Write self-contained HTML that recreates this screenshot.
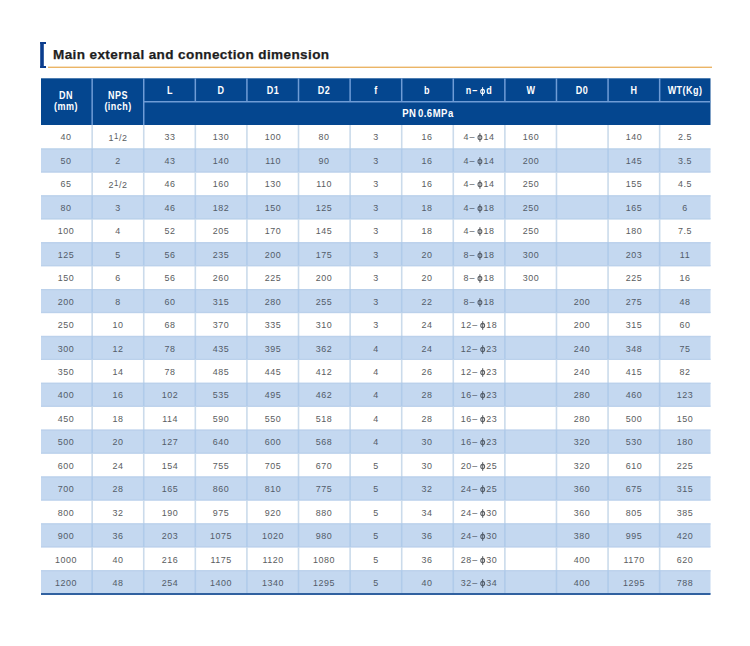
<!DOCTYPE html>
<html><head><meta charset="utf-8"><style>
*{margin:0;padding:0;box-sizing:border-box}
html,body{width:750px;height:646px;background:#fff;overflow:hidden}
body{position:relative;font-family:"Liberation Sans",sans-serif}
.a{position:absolute}
.t{position:absolute;text-align:center;white-space:nowrap}
.d{font-size:9.7px;color:#5a5d61;transform:scaleX(0.92);letter-spacing:0.55px}
.d.b{color:#535c69}
.h{font-size:10px;color:#fff;font-weight:bold;transform:scaleX(0.9);letter-spacing:0.5px}
.sup{font-size:8.5px;position:relative;top:-2px;margin:0 0.2px 0 0.2px}
.fr{position:relative;top:0.3px}
.dash{margin:0 0.6px}
svg.g{position:absolute;left:0;top:0}
</style></head><body>

<svg class="g" width="750" height="646" viewBox="0 0 750 646"><rect x="40.2" y="42" width="3.6" height="26" fill="#0b3d8e"/><rect x="40.2" y="42" width="5.8" height="2" fill="#0b3d8e"/><rect x="40.2" y="66" width="5.8" height="2" fill="#0b3d8e"/><rect x="48" y="66.6" width="664" height="1.4" fill="#ebb566"/><rect x="41.0" y="78.3" width="669.5" height="46.7" fill="#04468f"/><rect x="91.40" y="78.3" width="1.5" height="46.70" fill="#6f9cd6"/><rect x="142.99" y="78.3" width="1.5" height="46.70" fill="#6f9cd6"/><rect x="194.58" y="78.3" width="1.5" height="23.45" fill="#6f9cd6"/><rect x="246.17" y="78.3" width="1.5" height="23.45" fill="#6f9cd6"/><rect x="297.76" y="78.3" width="1.5" height="23.45" fill="#6f9cd6"/><rect x="349.36" y="78.3" width="1.5" height="23.45" fill="#6f9cd6"/><rect x="400.95" y="78.3" width="1.5" height="23.45" fill="#6f9cd6"/><rect x="452.54" y="78.3" width="1.5" height="23.45" fill="#6f9cd6"/><rect x="504.13" y="78.3" width="1.5" height="23.45" fill="#6f9cd6"/><rect x="555.72" y="78.3" width="1.5" height="23.45" fill="#6f9cd6"/><rect x="607.31" y="78.3" width="1.5" height="23.45" fill="#6f9cd6"/><rect x="658.90" y="78.3" width="1.5" height="23.45" fill="#6f9cd6"/><rect x="142.99" y="101.00" width="567.51" height="1.5" fill="#6f9cd6"/><rect x="91.35" y="125.00" width="1.6" height="23.45" fill="#cbdbeb"/><rect x="142.94" y="125.00" width="1.6" height="23.45" fill="#cbdbeb"/><rect x="194.53" y="125.00" width="1.6" height="23.45" fill="#cbdbeb"/><rect x="246.12" y="125.00" width="1.6" height="23.45" fill="#cbdbeb"/><rect x="297.71" y="125.00" width="1.6" height="23.45" fill="#cbdbeb"/><rect x="349.31" y="125.00" width="1.6" height="23.45" fill="#cbdbeb"/><rect x="400.90" y="125.00" width="1.6" height="23.45" fill="#cbdbeb"/><rect x="452.49" y="125.00" width="1.6" height="23.45" fill="#cbdbeb"/><rect x="504.08" y="125.00" width="1.6" height="23.45" fill="#cbdbeb"/><rect x="555.67" y="125.00" width="1.6" height="23.45" fill="#cbdbeb"/><rect x="607.26" y="125.00" width="1.6" height="23.45" fill="#cbdbeb"/><rect x="658.85" y="125.00" width="1.6" height="23.45" fill="#cbdbeb"/><rect x="41.0" y="148.43" width="669.5" height="24.10" fill="#c4d8f0"/><rect x="41.0" y="148.43" width="669.5" height="1.3" fill="#bbd1eb"/><rect x="41.0" y="171.23" width="669.5" height="1.3" fill="#bbd1eb"/><rect x="91.35" y="148.43" width="1.6" height="24.10" fill="#b0cbea"/><rect x="142.94" y="148.43" width="1.6" height="24.10" fill="#b0cbea"/><rect x="194.53" y="148.43" width="1.6" height="24.10" fill="#b0cbea"/><rect x="246.12" y="148.43" width="1.6" height="24.10" fill="#b0cbea"/><rect x="297.71" y="148.43" width="1.6" height="24.10" fill="#b0cbea"/><rect x="349.31" y="148.43" width="1.6" height="24.10" fill="#b0cbea"/><rect x="400.90" y="148.43" width="1.6" height="24.10" fill="#b0cbea"/><rect x="452.49" y="148.43" width="1.6" height="24.10" fill="#b0cbea"/><rect x="504.08" y="148.43" width="1.6" height="24.10" fill="#b0cbea"/><rect x="555.67" y="148.43" width="1.6" height="24.10" fill="#b0cbea"/><rect x="607.26" y="148.43" width="1.6" height="24.10" fill="#b0cbea"/><rect x="658.85" y="148.43" width="1.6" height="24.10" fill="#b0cbea"/><rect x="91.35" y="171.90" width="1.6" height="23.45" fill="#cbdbeb"/><rect x="142.94" y="171.90" width="1.6" height="23.45" fill="#cbdbeb"/><rect x="194.53" y="171.90" width="1.6" height="23.45" fill="#cbdbeb"/><rect x="246.12" y="171.90" width="1.6" height="23.45" fill="#cbdbeb"/><rect x="297.71" y="171.90" width="1.6" height="23.45" fill="#cbdbeb"/><rect x="349.31" y="171.90" width="1.6" height="23.45" fill="#cbdbeb"/><rect x="400.90" y="171.90" width="1.6" height="23.45" fill="#cbdbeb"/><rect x="452.49" y="171.90" width="1.6" height="23.45" fill="#cbdbeb"/><rect x="504.08" y="171.90" width="1.6" height="23.45" fill="#cbdbeb"/><rect x="555.67" y="171.90" width="1.6" height="23.45" fill="#cbdbeb"/><rect x="607.26" y="171.90" width="1.6" height="23.45" fill="#cbdbeb"/><rect x="658.85" y="171.90" width="1.6" height="23.45" fill="#cbdbeb"/><rect x="41.0" y="195.29" width="669.5" height="24.10" fill="#c4d8f0"/><rect x="41.0" y="195.29" width="669.5" height="1.3" fill="#bbd1eb"/><rect x="41.0" y="218.09" width="669.5" height="1.3" fill="#bbd1eb"/><rect x="91.35" y="195.29" width="1.6" height="24.10" fill="#b0cbea"/><rect x="142.94" y="195.29" width="1.6" height="24.10" fill="#b0cbea"/><rect x="194.53" y="195.29" width="1.6" height="24.10" fill="#b0cbea"/><rect x="246.12" y="195.29" width="1.6" height="24.10" fill="#b0cbea"/><rect x="297.71" y="195.29" width="1.6" height="24.10" fill="#b0cbea"/><rect x="349.31" y="195.29" width="1.6" height="24.10" fill="#b0cbea"/><rect x="400.90" y="195.29" width="1.6" height="24.10" fill="#b0cbea"/><rect x="452.49" y="195.29" width="1.6" height="24.10" fill="#b0cbea"/><rect x="504.08" y="195.29" width="1.6" height="24.10" fill="#b0cbea"/><rect x="555.67" y="195.29" width="1.6" height="24.10" fill="#b0cbea"/><rect x="607.26" y="195.29" width="1.6" height="24.10" fill="#b0cbea"/><rect x="658.85" y="195.29" width="1.6" height="24.10" fill="#b0cbea"/><rect x="91.35" y="218.80" width="1.6" height="23.45" fill="#cbdbeb"/><rect x="142.94" y="218.80" width="1.6" height="23.45" fill="#cbdbeb"/><rect x="194.53" y="218.80" width="1.6" height="23.45" fill="#cbdbeb"/><rect x="246.12" y="218.80" width="1.6" height="23.45" fill="#cbdbeb"/><rect x="297.71" y="218.80" width="1.6" height="23.45" fill="#cbdbeb"/><rect x="349.31" y="218.80" width="1.6" height="23.45" fill="#cbdbeb"/><rect x="400.90" y="218.80" width="1.6" height="23.45" fill="#cbdbeb"/><rect x="452.49" y="218.80" width="1.6" height="23.45" fill="#cbdbeb"/><rect x="504.08" y="218.80" width="1.6" height="23.45" fill="#cbdbeb"/><rect x="555.67" y="218.80" width="1.6" height="23.45" fill="#cbdbeb"/><rect x="607.26" y="218.80" width="1.6" height="23.45" fill="#cbdbeb"/><rect x="658.85" y="218.80" width="1.6" height="23.45" fill="#cbdbeb"/><rect x="41.0" y="242.15" width="669.5" height="24.10" fill="#c4d8f0"/><rect x="41.0" y="242.15" width="669.5" height="1.3" fill="#bbd1eb"/><rect x="41.0" y="264.95" width="669.5" height="1.3" fill="#bbd1eb"/><rect x="91.35" y="242.15" width="1.6" height="24.10" fill="#b0cbea"/><rect x="142.94" y="242.15" width="1.6" height="24.10" fill="#b0cbea"/><rect x="194.53" y="242.15" width="1.6" height="24.10" fill="#b0cbea"/><rect x="246.12" y="242.15" width="1.6" height="24.10" fill="#b0cbea"/><rect x="297.71" y="242.15" width="1.6" height="24.10" fill="#b0cbea"/><rect x="349.31" y="242.15" width="1.6" height="24.10" fill="#b0cbea"/><rect x="400.90" y="242.15" width="1.6" height="24.10" fill="#b0cbea"/><rect x="452.49" y="242.15" width="1.6" height="24.10" fill="#b0cbea"/><rect x="504.08" y="242.15" width="1.6" height="24.10" fill="#b0cbea"/><rect x="555.67" y="242.15" width="1.6" height="24.10" fill="#b0cbea"/><rect x="607.26" y="242.15" width="1.6" height="24.10" fill="#b0cbea"/><rect x="658.85" y="242.15" width="1.6" height="24.10" fill="#b0cbea"/><rect x="91.35" y="265.70" width="1.6" height="23.45" fill="#cbdbeb"/><rect x="142.94" y="265.70" width="1.6" height="23.45" fill="#cbdbeb"/><rect x="194.53" y="265.70" width="1.6" height="23.45" fill="#cbdbeb"/><rect x="246.12" y="265.70" width="1.6" height="23.45" fill="#cbdbeb"/><rect x="297.71" y="265.70" width="1.6" height="23.45" fill="#cbdbeb"/><rect x="349.31" y="265.70" width="1.6" height="23.45" fill="#cbdbeb"/><rect x="400.90" y="265.70" width="1.6" height="23.45" fill="#cbdbeb"/><rect x="452.49" y="265.70" width="1.6" height="23.45" fill="#cbdbeb"/><rect x="504.08" y="265.70" width="1.6" height="23.45" fill="#cbdbeb"/><rect x="555.67" y="265.70" width="1.6" height="23.45" fill="#cbdbeb"/><rect x="607.26" y="265.70" width="1.6" height="23.45" fill="#cbdbeb"/><rect x="658.85" y="265.70" width="1.6" height="23.45" fill="#cbdbeb"/><rect x="41.0" y="289.01" width="669.5" height="24.10" fill="#c4d8f0"/><rect x="41.0" y="289.01" width="669.5" height="1.3" fill="#bbd1eb"/><rect x="41.0" y="311.81" width="669.5" height="1.3" fill="#bbd1eb"/><rect x="91.35" y="289.01" width="1.6" height="24.10" fill="#b0cbea"/><rect x="142.94" y="289.01" width="1.6" height="24.10" fill="#b0cbea"/><rect x="194.53" y="289.01" width="1.6" height="24.10" fill="#b0cbea"/><rect x="246.12" y="289.01" width="1.6" height="24.10" fill="#b0cbea"/><rect x="297.71" y="289.01" width="1.6" height="24.10" fill="#b0cbea"/><rect x="349.31" y="289.01" width="1.6" height="24.10" fill="#b0cbea"/><rect x="400.90" y="289.01" width="1.6" height="24.10" fill="#b0cbea"/><rect x="452.49" y="289.01" width="1.6" height="24.10" fill="#b0cbea"/><rect x="504.08" y="289.01" width="1.6" height="24.10" fill="#b0cbea"/><rect x="555.67" y="289.01" width="1.6" height="24.10" fill="#b0cbea"/><rect x="607.26" y="289.01" width="1.6" height="24.10" fill="#b0cbea"/><rect x="658.85" y="289.01" width="1.6" height="24.10" fill="#b0cbea"/><rect x="91.35" y="312.60" width="1.6" height="23.45" fill="#cbdbeb"/><rect x="142.94" y="312.60" width="1.6" height="23.45" fill="#cbdbeb"/><rect x="194.53" y="312.60" width="1.6" height="23.45" fill="#cbdbeb"/><rect x="246.12" y="312.60" width="1.6" height="23.45" fill="#cbdbeb"/><rect x="297.71" y="312.60" width="1.6" height="23.45" fill="#cbdbeb"/><rect x="349.31" y="312.60" width="1.6" height="23.45" fill="#cbdbeb"/><rect x="400.90" y="312.60" width="1.6" height="23.45" fill="#cbdbeb"/><rect x="452.49" y="312.60" width="1.6" height="23.45" fill="#cbdbeb"/><rect x="504.08" y="312.60" width="1.6" height="23.45" fill="#cbdbeb"/><rect x="555.67" y="312.60" width="1.6" height="23.45" fill="#cbdbeb"/><rect x="607.26" y="312.60" width="1.6" height="23.45" fill="#cbdbeb"/><rect x="658.85" y="312.60" width="1.6" height="23.45" fill="#cbdbeb"/><rect x="41.0" y="335.87" width="669.5" height="24.10" fill="#c4d8f0"/><rect x="41.0" y="335.87" width="669.5" height="1.3" fill="#bbd1eb"/><rect x="41.0" y="358.67" width="669.5" height="1.3" fill="#bbd1eb"/><rect x="91.35" y="335.87" width="1.6" height="24.10" fill="#b0cbea"/><rect x="142.94" y="335.87" width="1.6" height="24.10" fill="#b0cbea"/><rect x="194.53" y="335.87" width="1.6" height="24.10" fill="#b0cbea"/><rect x="246.12" y="335.87" width="1.6" height="24.10" fill="#b0cbea"/><rect x="297.71" y="335.87" width="1.6" height="24.10" fill="#b0cbea"/><rect x="349.31" y="335.87" width="1.6" height="24.10" fill="#b0cbea"/><rect x="400.90" y="335.87" width="1.6" height="24.10" fill="#b0cbea"/><rect x="452.49" y="335.87" width="1.6" height="24.10" fill="#b0cbea"/><rect x="504.08" y="335.87" width="1.6" height="24.10" fill="#b0cbea"/><rect x="555.67" y="335.87" width="1.6" height="24.10" fill="#b0cbea"/><rect x="607.26" y="335.87" width="1.6" height="24.10" fill="#b0cbea"/><rect x="658.85" y="335.87" width="1.6" height="24.10" fill="#b0cbea"/><rect x="91.35" y="359.50" width="1.6" height="23.45" fill="#cbdbeb"/><rect x="142.94" y="359.50" width="1.6" height="23.45" fill="#cbdbeb"/><rect x="194.53" y="359.50" width="1.6" height="23.45" fill="#cbdbeb"/><rect x="246.12" y="359.50" width="1.6" height="23.45" fill="#cbdbeb"/><rect x="297.71" y="359.50" width="1.6" height="23.45" fill="#cbdbeb"/><rect x="349.31" y="359.50" width="1.6" height="23.45" fill="#cbdbeb"/><rect x="400.90" y="359.50" width="1.6" height="23.45" fill="#cbdbeb"/><rect x="452.49" y="359.50" width="1.6" height="23.45" fill="#cbdbeb"/><rect x="504.08" y="359.50" width="1.6" height="23.45" fill="#cbdbeb"/><rect x="555.67" y="359.50" width="1.6" height="23.45" fill="#cbdbeb"/><rect x="607.26" y="359.50" width="1.6" height="23.45" fill="#cbdbeb"/><rect x="658.85" y="359.50" width="1.6" height="23.45" fill="#cbdbeb"/><rect x="41.0" y="382.73" width="669.5" height="24.10" fill="#c4d8f0"/><rect x="41.0" y="382.73" width="669.5" height="1.3" fill="#bbd1eb"/><rect x="41.0" y="405.53" width="669.5" height="1.3" fill="#bbd1eb"/><rect x="91.35" y="382.73" width="1.6" height="24.10" fill="#b0cbea"/><rect x="142.94" y="382.73" width="1.6" height="24.10" fill="#b0cbea"/><rect x="194.53" y="382.73" width="1.6" height="24.10" fill="#b0cbea"/><rect x="246.12" y="382.73" width="1.6" height="24.10" fill="#b0cbea"/><rect x="297.71" y="382.73" width="1.6" height="24.10" fill="#b0cbea"/><rect x="349.31" y="382.73" width="1.6" height="24.10" fill="#b0cbea"/><rect x="400.90" y="382.73" width="1.6" height="24.10" fill="#b0cbea"/><rect x="452.49" y="382.73" width="1.6" height="24.10" fill="#b0cbea"/><rect x="504.08" y="382.73" width="1.6" height="24.10" fill="#b0cbea"/><rect x="555.67" y="382.73" width="1.6" height="24.10" fill="#b0cbea"/><rect x="607.26" y="382.73" width="1.6" height="24.10" fill="#b0cbea"/><rect x="658.85" y="382.73" width="1.6" height="24.10" fill="#b0cbea"/><rect x="91.35" y="406.40" width="1.6" height="23.45" fill="#cbdbeb"/><rect x="142.94" y="406.40" width="1.6" height="23.45" fill="#cbdbeb"/><rect x="194.53" y="406.40" width="1.6" height="23.45" fill="#cbdbeb"/><rect x="246.12" y="406.40" width="1.6" height="23.45" fill="#cbdbeb"/><rect x="297.71" y="406.40" width="1.6" height="23.45" fill="#cbdbeb"/><rect x="349.31" y="406.40" width="1.6" height="23.45" fill="#cbdbeb"/><rect x="400.90" y="406.40" width="1.6" height="23.45" fill="#cbdbeb"/><rect x="452.49" y="406.40" width="1.6" height="23.45" fill="#cbdbeb"/><rect x="504.08" y="406.40" width="1.6" height="23.45" fill="#cbdbeb"/><rect x="555.67" y="406.40" width="1.6" height="23.45" fill="#cbdbeb"/><rect x="607.26" y="406.40" width="1.6" height="23.45" fill="#cbdbeb"/><rect x="658.85" y="406.40" width="1.6" height="23.45" fill="#cbdbeb"/><rect x="41.0" y="429.59" width="669.5" height="24.10" fill="#c4d8f0"/><rect x="41.0" y="429.59" width="669.5" height="1.3" fill="#bbd1eb"/><rect x="41.0" y="452.39" width="669.5" height="1.3" fill="#bbd1eb"/><rect x="91.35" y="429.59" width="1.6" height="24.10" fill="#b0cbea"/><rect x="142.94" y="429.59" width="1.6" height="24.10" fill="#b0cbea"/><rect x="194.53" y="429.59" width="1.6" height="24.10" fill="#b0cbea"/><rect x="246.12" y="429.59" width="1.6" height="24.10" fill="#b0cbea"/><rect x="297.71" y="429.59" width="1.6" height="24.10" fill="#b0cbea"/><rect x="349.31" y="429.59" width="1.6" height="24.10" fill="#b0cbea"/><rect x="400.90" y="429.59" width="1.6" height="24.10" fill="#b0cbea"/><rect x="452.49" y="429.59" width="1.6" height="24.10" fill="#b0cbea"/><rect x="504.08" y="429.59" width="1.6" height="24.10" fill="#b0cbea"/><rect x="555.67" y="429.59" width="1.6" height="24.10" fill="#b0cbea"/><rect x="607.26" y="429.59" width="1.6" height="24.10" fill="#b0cbea"/><rect x="658.85" y="429.59" width="1.6" height="24.10" fill="#b0cbea"/><rect x="91.35" y="453.30" width="1.6" height="23.45" fill="#cbdbeb"/><rect x="142.94" y="453.30" width="1.6" height="23.45" fill="#cbdbeb"/><rect x="194.53" y="453.30" width="1.6" height="23.45" fill="#cbdbeb"/><rect x="246.12" y="453.30" width="1.6" height="23.45" fill="#cbdbeb"/><rect x="297.71" y="453.30" width="1.6" height="23.45" fill="#cbdbeb"/><rect x="349.31" y="453.30" width="1.6" height="23.45" fill="#cbdbeb"/><rect x="400.90" y="453.30" width="1.6" height="23.45" fill="#cbdbeb"/><rect x="452.49" y="453.30" width="1.6" height="23.45" fill="#cbdbeb"/><rect x="504.08" y="453.30" width="1.6" height="23.45" fill="#cbdbeb"/><rect x="555.67" y="453.30" width="1.6" height="23.45" fill="#cbdbeb"/><rect x="607.26" y="453.30" width="1.6" height="23.45" fill="#cbdbeb"/><rect x="658.85" y="453.30" width="1.6" height="23.45" fill="#cbdbeb"/><rect x="41.0" y="476.45" width="669.5" height="24.10" fill="#c4d8f0"/><rect x="41.0" y="476.45" width="669.5" height="1.3" fill="#bbd1eb"/><rect x="41.0" y="499.25" width="669.5" height="1.3" fill="#bbd1eb"/><rect x="91.35" y="476.45" width="1.6" height="24.10" fill="#b0cbea"/><rect x="142.94" y="476.45" width="1.6" height="24.10" fill="#b0cbea"/><rect x="194.53" y="476.45" width="1.6" height="24.10" fill="#b0cbea"/><rect x="246.12" y="476.45" width="1.6" height="24.10" fill="#b0cbea"/><rect x="297.71" y="476.45" width="1.6" height="24.10" fill="#b0cbea"/><rect x="349.31" y="476.45" width="1.6" height="24.10" fill="#b0cbea"/><rect x="400.90" y="476.45" width="1.6" height="24.10" fill="#b0cbea"/><rect x="452.49" y="476.45" width="1.6" height="24.10" fill="#b0cbea"/><rect x="504.08" y="476.45" width="1.6" height="24.10" fill="#b0cbea"/><rect x="555.67" y="476.45" width="1.6" height="24.10" fill="#b0cbea"/><rect x="607.26" y="476.45" width="1.6" height="24.10" fill="#b0cbea"/><rect x="658.85" y="476.45" width="1.6" height="24.10" fill="#b0cbea"/><rect x="91.35" y="500.20" width="1.6" height="23.45" fill="#cbdbeb"/><rect x="142.94" y="500.20" width="1.6" height="23.45" fill="#cbdbeb"/><rect x="194.53" y="500.20" width="1.6" height="23.45" fill="#cbdbeb"/><rect x="246.12" y="500.20" width="1.6" height="23.45" fill="#cbdbeb"/><rect x="297.71" y="500.20" width="1.6" height="23.45" fill="#cbdbeb"/><rect x="349.31" y="500.20" width="1.6" height="23.45" fill="#cbdbeb"/><rect x="400.90" y="500.20" width="1.6" height="23.45" fill="#cbdbeb"/><rect x="452.49" y="500.20" width="1.6" height="23.45" fill="#cbdbeb"/><rect x="504.08" y="500.20" width="1.6" height="23.45" fill="#cbdbeb"/><rect x="555.67" y="500.20" width="1.6" height="23.45" fill="#cbdbeb"/><rect x="607.26" y="500.20" width="1.6" height="23.45" fill="#cbdbeb"/><rect x="658.85" y="500.20" width="1.6" height="23.45" fill="#cbdbeb"/><rect x="41.0" y="523.31" width="669.5" height="24.10" fill="#c4d8f0"/><rect x="41.0" y="523.31" width="669.5" height="1.3" fill="#bbd1eb"/><rect x="41.0" y="546.11" width="669.5" height="1.3" fill="#bbd1eb"/><rect x="91.35" y="523.31" width="1.6" height="24.10" fill="#b0cbea"/><rect x="142.94" y="523.31" width="1.6" height="24.10" fill="#b0cbea"/><rect x="194.53" y="523.31" width="1.6" height="24.10" fill="#b0cbea"/><rect x="246.12" y="523.31" width="1.6" height="24.10" fill="#b0cbea"/><rect x="297.71" y="523.31" width="1.6" height="24.10" fill="#b0cbea"/><rect x="349.31" y="523.31" width="1.6" height="24.10" fill="#b0cbea"/><rect x="400.90" y="523.31" width="1.6" height="24.10" fill="#b0cbea"/><rect x="452.49" y="523.31" width="1.6" height="24.10" fill="#b0cbea"/><rect x="504.08" y="523.31" width="1.6" height="24.10" fill="#b0cbea"/><rect x="555.67" y="523.31" width="1.6" height="24.10" fill="#b0cbea"/><rect x="607.26" y="523.31" width="1.6" height="24.10" fill="#b0cbea"/><rect x="658.85" y="523.31" width="1.6" height="24.10" fill="#b0cbea"/><rect x="91.35" y="547.10" width="1.6" height="23.45" fill="#cbdbeb"/><rect x="142.94" y="547.10" width="1.6" height="23.45" fill="#cbdbeb"/><rect x="194.53" y="547.10" width="1.6" height="23.45" fill="#cbdbeb"/><rect x="246.12" y="547.10" width="1.6" height="23.45" fill="#cbdbeb"/><rect x="297.71" y="547.10" width="1.6" height="23.45" fill="#cbdbeb"/><rect x="349.31" y="547.10" width="1.6" height="23.45" fill="#cbdbeb"/><rect x="400.90" y="547.10" width="1.6" height="23.45" fill="#cbdbeb"/><rect x="452.49" y="547.10" width="1.6" height="23.45" fill="#cbdbeb"/><rect x="504.08" y="547.10" width="1.6" height="23.45" fill="#cbdbeb"/><rect x="555.67" y="547.10" width="1.6" height="23.45" fill="#cbdbeb"/><rect x="607.26" y="547.10" width="1.6" height="23.45" fill="#cbdbeb"/><rect x="658.85" y="547.10" width="1.6" height="23.45" fill="#cbdbeb"/><rect x="41.0" y="570.17" width="669.5" height="24.10" fill="#c4d8f0"/><rect x="41.0" y="570.17" width="669.5" height="1.3" fill="#bbd1eb"/><rect x="41.0" y="592.97" width="669.5" height="1.3" fill="#bbd1eb"/><rect x="91.35" y="570.17" width="1.6" height="24.10" fill="#b0cbea"/><rect x="142.94" y="570.17" width="1.6" height="24.10" fill="#b0cbea"/><rect x="194.53" y="570.17" width="1.6" height="24.10" fill="#b0cbea"/><rect x="246.12" y="570.17" width="1.6" height="24.10" fill="#b0cbea"/><rect x="297.71" y="570.17" width="1.6" height="24.10" fill="#b0cbea"/><rect x="349.31" y="570.17" width="1.6" height="24.10" fill="#b0cbea"/><rect x="400.90" y="570.17" width="1.6" height="24.10" fill="#b0cbea"/><rect x="452.49" y="570.17" width="1.6" height="24.10" fill="#b0cbea"/><rect x="504.08" y="570.17" width="1.6" height="24.10" fill="#b0cbea"/><rect x="555.67" y="570.17" width="1.6" height="24.10" fill="#b0cbea"/><rect x="607.26" y="570.17" width="1.6" height="24.10" fill="#b0cbea"/><rect x="658.85" y="570.17" width="1.6" height="24.10" fill="#b0cbea"/><rect x="41" y="593" width="669.5" height="2" fill="#3161a0"/></svg>
<div class="a" style="left:53px;top:45.8px;font-size:13px;line-height:18px;font-weight:bold;letter-spacing:0.38px;color:#1e1e1e;white-space:nowrap;transform:scaleX(1.04);transform-origin:0 0;-webkit-text-stroke:0.25px #1e1e1e">Main external and connection dimension</div>
<div class="t h" style="left:139.54px;top:78.89999999999999px;width:60px;height:23px;line-height:23px">L</div>
<div class="t h" style="left:191.13px;top:78.89999999999999px;width:60px;height:23px;line-height:23px">D</div>
<div class="t h" style="left:242.72px;top:78.89999999999999px;width:60px;height:23px;line-height:23px">D1</div>
<div class="t h" style="left:294.31px;top:78.89999999999999px;width:60px;height:23px;line-height:23px">D2</div>
<div class="t h" style="left:345.90px;top:78.89999999999999px;width:60px;height:23px;line-height:23px">f</div>
<div class="t h" style="left:397.49px;top:78.89999999999999px;width:60px;height:23px;line-height:23px">b</div>
<div class="t h" style="left:449.08px;top:78.89999999999999px;width:60px;height:23px;line-height:23px">n<span class="dash">–</span><svg width="6" height="9" viewBox="0 0 6 9" style="vertical-align:-2.3px;margin:0 1.2px 0 1.6px;overflow:visible"><ellipse cx="3" cy="4.5" rx="2.1" ry="2.1" fill="none" stroke="currentColor" stroke-width="1.1"/><rect x="2.45" y="0.2" width="1.1" height="8.6" fill="currentColor"/></svg>d</div>
<div class="t h" style="left:500.67px;top:78.89999999999999px;width:60px;height:23px;line-height:23px">W</div>
<div class="t h" style="left:552.27px;top:78.89999999999999px;width:60px;height:23px;line-height:23px">D0</div>
<div class="t h" style="left:603.86px;top:78.89999999999999px;width:60px;height:23px;line-height:23px">H</div>
<div class="t h" style="left:655.45px;top:78.89999999999999px;width:60px;height:23px;line-height:23px">WT(Kg)</div>
<div class="t h" style="left:36.36px;top:90px;width:60px;line-height:12px">DN</div>
<div class="t h" style="left:36.36px;top:100.8px;width:60px;line-height:12px">(mm)</div>
<div class="t h" style="left:87.95px;top:90px;width:60px;line-height:12px">NPS</div>
<div class="t h" style="left:87.95px;top:100.8px;width:60px;line-height:12px">(inch)</div>
<div class="t h" style="left:367.12px;top:102.25px;width:120px;height:23px;line-height:23px"><span style="display:inline-block;transform:scaleX(1.06);word-spacing:-1.6px;position:relative;left:1px">PN 0.6MPa</span></div>
<div class="t d" style="left:36.36px;top:126.83px;width:60px;height:20px;line-height:20px">40</div>
<div class="t d" style="left:87.95px;top:126.83px;width:60px;height:20px;line-height:20px"><span style="position:relative;top:0.8px">1<span class="sup">1</span><span class="fr">/2</span></span></div>
<div class="t d" style="left:139.54px;top:126.83px;width:60px;height:20px;line-height:20px">33</div>
<div class="t d" style="left:191.13px;top:126.83px;width:60px;height:20px;line-height:20px">130</div>
<div class="t d" style="left:242.72px;top:126.83px;width:60px;height:20px;line-height:20px">100</div>
<div class="t d" style="left:294.31px;top:126.83px;width:60px;height:20px;line-height:20px">80</div>
<div class="t d" style="left:345.90px;top:126.83px;width:60px;height:20px;line-height:20px">3</div>
<div class="t d" style="left:397.49px;top:126.83px;width:60px;height:20px;line-height:20px">16</div>
<div class="t d" style="left:449.08px;top:126.83px;width:60px;height:20px;line-height:20px">4<span class="dash">–</span><svg width="6" height="9" viewBox="0 0 6 9" style="vertical-align:-2.3px;margin:0 1.2px 0 1.6px;overflow:visible"><ellipse cx="3" cy="4.5" rx="2.1" ry="2.1" fill="none" stroke="currentColor" stroke-width="1.1"/><rect x="2.45" y="0.2" width="1.1" height="8.6" fill="currentColor"/></svg>14</div>
<div class="t d" style="left:500.67px;top:126.83px;width:60px;height:20px;line-height:20px">160</div>
<div class="t d" style="left:603.86px;top:126.83px;width:60px;height:20px;line-height:20px">140</div>
<div class="t d" style="left:655.45px;top:126.83px;width:60px;height:20px;line-height:20px">2.5</div>
<div class="t d b" style="left:36.36px;top:150.83px;width:60px;height:20px;line-height:20px">50</div>
<div class="t d b" style="left:87.95px;top:150.83px;width:60px;height:20px;line-height:20px">2</div>
<div class="t d b" style="left:139.54px;top:150.83px;width:60px;height:20px;line-height:20px">43</div>
<div class="t d b" style="left:191.13px;top:150.83px;width:60px;height:20px;line-height:20px">140</div>
<div class="t d b" style="left:242.72px;top:150.83px;width:60px;height:20px;line-height:20px">110</div>
<div class="t d b" style="left:294.31px;top:150.83px;width:60px;height:20px;line-height:20px">90</div>
<div class="t d b" style="left:345.90px;top:150.83px;width:60px;height:20px;line-height:20px">3</div>
<div class="t d b" style="left:397.49px;top:150.83px;width:60px;height:20px;line-height:20px">16</div>
<div class="t d b" style="left:449.08px;top:150.83px;width:60px;height:20px;line-height:20px">4<span class="dash">–</span><svg width="6" height="9" viewBox="0 0 6 9" style="vertical-align:-2.3px;margin:0 1.2px 0 1.6px;overflow:visible"><ellipse cx="3" cy="4.5" rx="2.1" ry="2.1" fill="none" stroke="currentColor" stroke-width="1.1"/><rect x="2.45" y="0.2" width="1.1" height="8.6" fill="currentColor"/></svg>14</div>
<div class="t d b" style="left:500.67px;top:150.83px;width:60px;height:20px;line-height:20px">200</div>
<div class="t d b" style="left:603.86px;top:150.83px;width:60px;height:20px;line-height:20px">145</div>
<div class="t d b" style="left:655.45px;top:150.83px;width:60px;height:20px;line-height:20px">3.5</div>
<div class="t d" style="left:36.36px;top:173.83px;width:60px;height:20px;line-height:20px">65</div>
<div class="t d" style="left:87.95px;top:173.83px;width:60px;height:20px;line-height:20px"><span style="position:relative;top:0.8px">2<span class="sup">1</span><span class="fr">/2</span></span></div>
<div class="t d" style="left:139.54px;top:173.83px;width:60px;height:20px;line-height:20px">46</div>
<div class="t d" style="left:191.13px;top:173.83px;width:60px;height:20px;line-height:20px">160</div>
<div class="t d" style="left:242.72px;top:173.83px;width:60px;height:20px;line-height:20px">130</div>
<div class="t d" style="left:294.31px;top:173.83px;width:60px;height:20px;line-height:20px">110</div>
<div class="t d" style="left:345.90px;top:173.83px;width:60px;height:20px;line-height:20px">3</div>
<div class="t d" style="left:397.49px;top:173.83px;width:60px;height:20px;line-height:20px">16</div>
<div class="t d" style="left:449.08px;top:173.83px;width:60px;height:20px;line-height:20px">4<span class="dash">–</span><svg width="6" height="9" viewBox="0 0 6 9" style="vertical-align:-2.3px;margin:0 1.2px 0 1.6px;overflow:visible"><ellipse cx="3" cy="4.5" rx="2.1" ry="2.1" fill="none" stroke="currentColor" stroke-width="1.1"/><rect x="2.45" y="0.2" width="1.1" height="8.6" fill="currentColor"/></svg>14</div>
<div class="t d" style="left:500.67px;top:173.83px;width:60px;height:20px;line-height:20px">250</div>
<div class="t d" style="left:603.86px;top:173.83px;width:60px;height:20px;line-height:20px">155</div>
<div class="t d" style="left:655.45px;top:173.83px;width:60px;height:20px;line-height:20px">4.5</div>
<div class="t d b" style="left:36.36px;top:197.83px;width:60px;height:20px;line-height:20px">80</div>
<div class="t d b" style="left:87.95px;top:197.83px;width:60px;height:20px;line-height:20px">3</div>
<div class="t d b" style="left:139.54px;top:197.83px;width:60px;height:20px;line-height:20px">46</div>
<div class="t d b" style="left:191.13px;top:197.83px;width:60px;height:20px;line-height:20px">182</div>
<div class="t d b" style="left:242.72px;top:197.83px;width:60px;height:20px;line-height:20px">150</div>
<div class="t d b" style="left:294.31px;top:197.83px;width:60px;height:20px;line-height:20px">125</div>
<div class="t d b" style="left:345.90px;top:197.83px;width:60px;height:20px;line-height:20px">3</div>
<div class="t d b" style="left:397.49px;top:197.83px;width:60px;height:20px;line-height:20px">18</div>
<div class="t d b" style="left:449.08px;top:197.83px;width:60px;height:20px;line-height:20px">4<span class="dash">–</span><svg width="6" height="9" viewBox="0 0 6 9" style="vertical-align:-2.3px;margin:0 1.2px 0 1.6px;overflow:visible"><ellipse cx="3" cy="4.5" rx="2.1" ry="2.1" fill="none" stroke="currentColor" stroke-width="1.1"/><rect x="2.45" y="0.2" width="1.1" height="8.6" fill="currentColor"/></svg>18</div>
<div class="t d b" style="left:500.67px;top:197.83px;width:60px;height:20px;line-height:20px">250</div>
<div class="t d b" style="left:603.86px;top:197.83px;width:60px;height:20px;line-height:20px">165</div>
<div class="t d b" style="left:655.45px;top:197.83px;width:60px;height:20px;line-height:20px">6</div>
<div class="t d" style="left:36.36px;top:220.83px;width:60px;height:20px;line-height:20px">100</div>
<div class="t d" style="left:87.95px;top:220.83px;width:60px;height:20px;line-height:20px">4</div>
<div class="t d" style="left:139.54px;top:220.83px;width:60px;height:20px;line-height:20px">52</div>
<div class="t d" style="left:191.13px;top:220.83px;width:60px;height:20px;line-height:20px">205</div>
<div class="t d" style="left:242.72px;top:220.83px;width:60px;height:20px;line-height:20px">170</div>
<div class="t d" style="left:294.31px;top:220.83px;width:60px;height:20px;line-height:20px">145</div>
<div class="t d" style="left:345.90px;top:220.83px;width:60px;height:20px;line-height:20px">3</div>
<div class="t d" style="left:397.49px;top:220.83px;width:60px;height:20px;line-height:20px">18</div>
<div class="t d" style="left:449.08px;top:220.83px;width:60px;height:20px;line-height:20px">4<span class="dash">–</span><svg width="6" height="9" viewBox="0 0 6 9" style="vertical-align:-2.3px;margin:0 1.2px 0 1.6px;overflow:visible"><ellipse cx="3" cy="4.5" rx="2.1" ry="2.1" fill="none" stroke="currentColor" stroke-width="1.1"/><rect x="2.45" y="0.2" width="1.1" height="8.6" fill="currentColor"/></svg>18</div>
<div class="t d" style="left:500.67px;top:220.83px;width:60px;height:20px;line-height:20px">250</div>
<div class="t d" style="left:603.86px;top:220.83px;width:60px;height:20px;line-height:20px">180</div>
<div class="t d" style="left:655.45px;top:220.83px;width:60px;height:20px;line-height:20px">7.5</div>
<div class="t d b" style="left:36.36px;top:244.83px;width:60px;height:20px;line-height:20px">125</div>
<div class="t d b" style="left:87.95px;top:244.83px;width:60px;height:20px;line-height:20px">5</div>
<div class="t d b" style="left:139.54px;top:244.83px;width:60px;height:20px;line-height:20px">56</div>
<div class="t d b" style="left:191.13px;top:244.83px;width:60px;height:20px;line-height:20px">235</div>
<div class="t d b" style="left:242.72px;top:244.83px;width:60px;height:20px;line-height:20px">200</div>
<div class="t d b" style="left:294.31px;top:244.83px;width:60px;height:20px;line-height:20px">175</div>
<div class="t d b" style="left:345.90px;top:244.83px;width:60px;height:20px;line-height:20px">3</div>
<div class="t d b" style="left:397.49px;top:244.83px;width:60px;height:20px;line-height:20px">20</div>
<div class="t d b" style="left:449.08px;top:244.83px;width:60px;height:20px;line-height:20px">8<span class="dash">–</span><svg width="6" height="9" viewBox="0 0 6 9" style="vertical-align:-2.3px;margin:0 1.2px 0 1.6px;overflow:visible"><ellipse cx="3" cy="4.5" rx="2.1" ry="2.1" fill="none" stroke="currentColor" stroke-width="1.1"/><rect x="2.45" y="0.2" width="1.1" height="8.6" fill="currentColor"/></svg>18</div>
<div class="t d b" style="left:500.67px;top:244.83px;width:60px;height:20px;line-height:20px">300</div>
<div class="t d b" style="left:603.86px;top:244.83px;width:60px;height:20px;line-height:20px">203</div>
<div class="t d b" style="left:655.45px;top:244.83px;width:60px;height:20px;line-height:20px">11</div>
<div class="t d" style="left:36.36px;top:267.83px;width:60px;height:20px;line-height:20px">150</div>
<div class="t d" style="left:87.95px;top:267.83px;width:60px;height:20px;line-height:20px">6</div>
<div class="t d" style="left:139.54px;top:267.83px;width:60px;height:20px;line-height:20px">56</div>
<div class="t d" style="left:191.13px;top:267.83px;width:60px;height:20px;line-height:20px">260</div>
<div class="t d" style="left:242.72px;top:267.83px;width:60px;height:20px;line-height:20px">225</div>
<div class="t d" style="left:294.31px;top:267.83px;width:60px;height:20px;line-height:20px">200</div>
<div class="t d" style="left:345.90px;top:267.83px;width:60px;height:20px;line-height:20px">3</div>
<div class="t d" style="left:397.49px;top:267.83px;width:60px;height:20px;line-height:20px">20</div>
<div class="t d" style="left:449.08px;top:267.83px;width:60px;height:20px;line-height:20px">8<span class="dash">–</span><svg width="6" height="9" viewBox="0 0 6 9" style="vertical-align:-2.3px;margin:0 1.2px 0 1.6px;overflow:visible"><ellipse cx="3" cy="4.5" rx="2.1" ry="2.1" fill="none" stroke="currentColor" stroke-width="1.1"/><rect x="2.45" y="0.2" width="1.1" height="8.6" fill="currentColor"/></svg>18</div>
<div class="t d" style="left:500.67px;top:267.83px;width:60px;height:20px;line-height:20px">300</div>
<div class="t d" style="left:603.86px;top:267.83px;width:60px;height:20px;line-height:20px">225</div>
<div class="t d" style="left:655.45px;top:267.83px;width:60px;height:20px;line-height:20px">16</div>
<div class="t d b" style="left:36.36px;top:291.83px;width:60px;height:20px;line-height:20px">200</div>
<div class="t d b" style="left:87.95px;top:291.83px;width:60px;height:20px;line-height:20px">8</div>
<div class="t d b" style="left:139.54px;top:291.83px;width:60px;height:20px;line-height:20px">60</div>
<div class="t d b" style="left:191.13px;top:291.83px;width:60px;height:20px;line-height:20px">315</div>
<div class="t d b" style="left:242.72px;top:291.83px;width:60px;height:20px;line-height:20px">280</div>
<div class="t d b" style="left:294.31px;top:291.83px;width:60px;height:20px;line-height:20px">255</div>
<div class="t d b" style="left:345.90px;top:291.83px;width:60px;height:20px;line-height:20px">3</div>
<div class="t d b" style="left:397.49px;top:291.83px;width:60px;height:20px;line-height:20px">22</div>
<div class="t d b" style="left:449.08px;top:291.83px;width:60px;height:20px;line-height:20px">8<span class="dash">–</span><svg width="6" height="9" viewBox="0 0 6 9" style="vertical-align:-2.3px;margin:0 1.2px 0 1.6px;overflow:visible"><ellipse cx="3" cy="4.5" rx="2.1" ry="2.1" fill="none" stroke="currentColor" stroke-width="1.1"/><rect x="2.45" y="0.2" width="1.1" height="8.6" fill="currentColor"/></svg>18</div>
<div class="t d b" style="left:552.27px;top:291.83px;width:60px;height:20px;line-height:20px">200</div>
<div class="t d b" style="left:603.86px;top:291.83px;width:60px;height:20px;line-height:20px">275</div>
<div class="t d b" style="left:655.45px;top:291.83px;width:60px;height:20px;line-height:20px">48</div>
<div class="t d" style="left:36.36px;top:314.83px;width:60px;height:20px;line-height:20px">250</div>
<div class="t d" style="left:87.95px;top:314.83px;width:60px;height:20px;line-height:20px">10</div>
<div class="t d" style="left:139.54px;top:314.83px;width:60px;height:20px;line-height:20px">68</div>
<div class="t d" style="left:191.13px;top:314.83px;width:60px;height:20px;line-height:20px">370</div>
<div class="t d" style="left:242.72px;top:314.83px;width:60px;height:20px;line-height:20px">335</div>
<div class="t d" style="left:294.31px;top:314.83px;width:60px;height:20px;line-height:20px">310</div>
<div class="t d" style="left:345.90px;top:314.83px;width:60px;height:20px;line-height:20px">3</div>
<div class="t d" style="left:397.49px;top:314.83px;width:60px;height:20px;line-height:20px">24</div>
<div class="t d" style="left:449.08px;top:314.83px;width:60px;height:20px;line-height:20px">12<span class="dash">–</span><svg width="6" height="9" viewBox="0 0 6 9" style="vertical-align:-2.3px;margin:0 1.2px 0 1.6px;overflow:visible"><ellipse cx="3" cy="4.5" rx="2.1" ry="2.1" fill="none" stroke="currentColor" stroke-width="1.1"/><rect x="2.45" y="0.2" width="1.1" height="8.6" fill="currentColor"/></svg>18</div>
<div class="t d" style="left:552.27px;top:314.83px;width:60px;height:20px;line-height:20px">200</div>
<div class="t d" style="left:603.86px;top:314.83px;width:60px;height:20px;line-height:20px">315</div>
<div class="t d" style="left:655.45px;top:314.83px;width:60px;height:20px;line-height:20px">60</div>
<div class="t d b" style="left:36.36px;top:338.83px;width:60px;height:20px;line-height:20px">300</div>
<div class="t d b" style="left:87.95px;top:338.83px;width:60px;height:20px;line-height:20px">12</div>
<div class="t d b" style="left:139.54px;top:338.83px;width:60px;height:20px;line-height:20px">78</div>
<div class="t d b" style="left:191.13px;top:338.83px;width:60px;height:20px;line-height:20px">435</div>
<div class="t d b" style="left:242.72px;top:338.83px;width:60px;height:20px;line-height:20px">395</div>
<div class="t d b" style="left:294.31px;top:338.83px;width:60px;height:20px;line-height:20px">362</div>
<div class="t d b" style="left:345.90px;top:338.83px;width:60px;height:20px;line-height:20px">4</div>
<div class="t d b" style="left:397.49px;top:338.83px;width:60px;height:20px;line-height:20px">24</div>
<div class="t d b" style="left:449.08px;top:338.83px;width:60px;height:20px;line-height:20px">12<span class="dash">–</span><svg width="6" height="9" viewBox="0 0 6 9" style="vertical-align:-2.3px;margin:0 1.2px 0 1.6px;overflow:visible"><ellipse cx="3" cy="4.5" rx="2.1" ry="2.1" fill="none" stroke="currentColor" stroke-width="1.1"/><rect x="2.45" y="0.2" width="1.1" height="8.6" fill="currentColor"/></svg>23</div>
<div class="t d b" style="left:552.27px;top:338.83px;width:60px;height:20px;line-height:20px">240</div>
<div class="t d b" style="left:603.86px;top:338.83px;width:60px;height:20px;line-height:20px">348</div>
<div class="t d b" style="left:655.45px;top:338.83px;width:60px;height:20px;line-height:20px">75</div>
<div class="t d" style="left:36.36px;top:361.83px;width:60px;height:20px;line-height:20px">350</div>
<div class="t d" style="left:87.95px;top:361.83px;width:60px;height:20px;line-height:20px">14</div>
<div class="t d" style="left:139.54px;top:361.83px;width:60px;height:20px;line-height:20px">78</div>
<div class="t d" style="left:191.13px;top:361.83px;width:60px;height:20px;line-height:20px">485</div>
<div class="t d" style="left:242.72px;top:361.83px;width:60px;height:20px;line-height:20px">445</div>
<div class="t d" style="left:294.31px;top:361.83px;width:60px;height:20px;line-height:20px">412</div>
<div class="t d" style="left:345.90px;top:361.83px;width:60px;height:20px;line-height:20px">4</div>
<div class="t d" style="left:397.49px;top:361.83px;width:60px;height:20px;line-height:20px">26</div>
<div class="t d" style="left:449.08px;top:361.83px;width:60px;height:20px;line-height:20px">12<span class="dash">–</span><svg width="6" height="9" viewBox="0 0 6 9" style="vertical-align:-2.3px;margin:0 1.2px 0 1.6px;overflow:visible"><ellipse cx="3" cy="4.5" rx="2.1" ry="2.1" fill="none" stroke="currentColor" stroke-width="1.1"/><rect x="2.45" y="0.2" width="1.1" height="8.6" fill="currentColor"/></svg>23</div>
<div class="t d" style="left:552.27px;top:361.83px;width:60px;height:20px;line-height:20px">240</div>
<div class="t d" style="left:603.86px;top:361.83px;width:60px;height:20px;line-height:20px">415</div>
<div class="t d" style="left:655.45px;top:361.83px;width:60px;height:20px;line-height:20px">82</div>
<div class="t d b" style="left:36.36px;top:384.83px;width:60px;height:20px;line-height:20px">400</div>
<div class="t d b" style="left:87.95px;top:384.83px;width:60px;height:20px;line-height:20px">16</div>
<div class="t d b" style="left:139.54px;top:384.83px;width:60px;height:20px;line-height:20px">102</div>
<div class="t d b" style="left:191.13px;top:384.83px;width:60px;height:20px;line-height:20px">535</div>
<div class="t d b" style="left:242.72px;top:384.83px;width:60px;height:20px;line-height:20px">495</div>
<div class="t d b" style="left:294.31px;top:384.83px;width:60px;height:20px;line-height:20px">462</div>
<div class="t d b" style="left:345.90px;top:384.83px;width:60px;height:20px;line-height:20px">4</div>
<div class="t d b" style="left:397.49px;top:384.83px;width:60px;height:20px;line-height:20px">28</div>
<div class="t d b" style="left:449.08px;top:384.83px;width:60px;height:20px;line-height:20px">16<span class="dash">–</span><svg width="6" height="9" viewBox="0 0 6 9" style="vertical-align:-2.3px;margin:0 1.2px 0 1.6px;overflow:visible"><ellipse cx="3" cy="4.5" rx="2.1" ry="2.1" fill="none" stroke="currentColor" stroke-width="1.1"/><rect x="2.45" y="0.2" width="1.1" height="8.6" fill="currentColor"/></svg>23</div>
<div class="t d b" style="left:552.27px;top:384.83px;width:60px;height:20px;line-height:20px">280</div>
<div class="t d b" style="left:603.86px;top:384.83px;width:60px;height:20px;line-height:20px">460</div>
<div class="t d b" style="left:655.45px;top:384.83px;width:60px;height:20px;line-height:20px">123</div>
<div class="t d" style="left:36.36px;top:408.83px;width:60px;height:20px;line-height:20px">450</div>
<div class="t d" style="left:87.95px;top:408.83px;width:60px;height:20px;line-height:20px">18</div>
<div class="t d" style="left:139.54px;top:408.83px;width:60px;height:20px;line-height:20px">114</div>
<div class="t d" style="left:191.13px;top:408.83px;width:60px;height:20px;line-height:20px">590</div>
<div class="t d" style="left:242.72px;top:408.83px;width:60px;height:20px;line-height:20px">550</div>
<div class="t d" style="left:294.31px;top:408.83px;width:60px;height:20px;line-height:20px">518</div>
<div class="t d" style="left:345.90px;top:408.83px;width:60px;height:20px;line-height:20px">4</div>
<div class="t d" style="left:397.49px;top:408.83px;width:60px;height:20px;line-height:20px">28</div>
<div class="t d" style="left:449.08px;top:408.83px;width:60px;height:20px;line-height:20px">16<span class="dash">–</span><svg width="6" height="9" viewBox="0 0 6 9" style="vertical-align:-2.3px;margin:0 1.2px 0 1.6px;overflow:visible"><ellipse cx="3" cy="4.5" rx="2.1" ry="2.1" fill="none" stroke="currentColor" stroke-width="1.1"/><rect x="2.45" y="0.2" width="1.1" height="8.6" fill="currentColor"/></svg>23</div>
<div class="t d" style="left:552.27px;top:408.83px;width:60px;height:20px;line-height:20px">280</div>
<div class="t d" style="left:603.86px;top:408.83px;width:60px;height:20px;line-height:20px">500</div>
<div class="t d" style="left:655.45px;top:408.83px;width:60px;height:20px;line-height:20px">150</div>
<div class="t d b" style="left:36.36px;top:431.83px;width:60px;height:20px;line-height:20px">500</div>
<div class="t d b" style="left:87.95px;top:431.83px;width:60px;height:20px;line-height:20px">20</div>
<div class="t d b" style="left:139.54px;top:431.83px;width:60px;height:20px;line-height:20px">127</div>
<div class="t d b" style="left:191.13px;top:431.83px;width:60px;height:20px;line-height:20px">640</div>
<div class="t d b" style="left:242.72px;top:431.83px;width:60px;height:20px;line-height:20px">600</div>
<div class="t d b" style="left:294.31px;top:431.83px;width:60px;height:20px;line-height:20px">568</div>
<div class="t d b" style="left:345.90px;top:431.83px;width:60px;height:20px;line-height:20px">4</div>
<div class="t d b" style="left:397.49px;top:431.83px;width:60px;height:20px;line-height:20px">30</div>
<div class="t d b" style="left:449.08px;top:431.83px;width:60px;height:20px;line-height:20px">16<span class="dash">–</span><svg width="6" height="9" viewBox="0 0 6 9" style="vertical-align:-2.3px;margin:0 1.2px 0 1.6px;overflow:visible"><ellipse cx="3" cy="4.5" rx="2.1" ry="2.1" fill="none" stroke="currentColor" stroke-width="1.1"/><rect x="2.45" y="0.2" width="1.1" height="8.6" fill="currentColor"/></svg>23</div>
<div class="t d b" style="left:552.27px;top:431.83px;width:60px;height:20px;line-height:20px">320</div>
<div class="t d b" style="left:603.86px;top:431.83px;width:60px;height:20px;line-height:20px">530</div>
<div class="t d b" style="left:655.45px;top:431.83px;width:60px;height:20px;line-height:20px">180</div>
<div class="t d" style="left:36.36px;top:455.83px;width:60px;height:20px;line-height:20px">600</div>
<div class="t d" style="left:87.95px;top:455.83px;width:60px;height:20px;line-height:20px">24</div>
<div class="t d" style="left:139.54px;top:455.83px;width:60px;height:20px;line-height:20px">154</div>
<div class="t d" style="left:191.13px;top:455.83px;width:60px;height:20px;line-height:20px">755</div>
<div class="t d" style="left:242.72px;top:455.83px;width:60px;height:20px;line-height:20px">705</div>
<div class="t d" style="left:294.31px;top:455.83px;width:60px;height:20px;line-height:20px">670</div>
<div class="t d" style="left:345.90px;top:455.83px;width:60px;height:20px;line-height:20px">5</div>
<div class="t d" style="left:397.49px;top:455.83px;width:60px;height:20px;line-height:20px">30</div>
<div class="t d" style="left:449.08px;top:455.83px;width:60px;height:20px;line-height:20px">20<span class="dash">–</span><svg width="6" height="9" viewBox="0 0 6 9" style="vertical-align:-2.3px;margin:0 1.2px 0 1.6px;overflow:visible"><ellipse cx="3" cy="4.5" rx="2.1" ry="2.1" fill="none" stroke="currentColor" stroke-width="1.1"/><rect x="2.45" y="0.2" width="1.1" height="8.6" fill="currentColor"/></svg>25</div>
<div class="t d" style="left:552.27px;top:455.83px;width:60px;height:20px;line-height:20px">320</div>
<div class="t d" style="left:603.86px;top:455.83px;width:60px;height:20px;line-height:20px">610</div>
<div class="t d" style="left:655.45px;top:455.83px;width:60px;height:20px;line-height:20px">225</div>
<div class="t d b" style="left:36.36px;top:478.83px;width:60px;height:20px;line-height:20px">700</div>
<div class="t d b" style="left:87.95px;top:478.83px;width:60px;height:20px;line-height:20px">28</div>
<div class="t d b" style="left:139.54px;top:478.83px;width:60px;height:20px;line-height:20px">165</div>
<div class="t d b" style="left:191.13px;top:478.83px;width:60px;height:20px;line-height:20px">860</div>
<div class="t d b" style="left:242.72px;top:478.83px;width:60px;height:20px;line-height:20px">810</div>
<div class="t d b" style="left:294.31px;top:478.83px;width:60px;height:20px;line-height:20px">775</div>
<div class="t d b" style="left:345.90px;top:478.83px;width:60px;height:20px;line-height:20px">5</div>
<div class="t d b" style="left:397.49px;top:478.83px;width:60px;height:20px;line-height:20px">32</div>
<div class="t d b" style="left:449.08px;top:478.83px;width:60px;height:20px;line-height:20px">24<span class="dash">–</span><svg width="6" height="9" viewBox="0 0 6 9" style="vertical-align:-2.3px;margin:0 1.2px 0 1.6px;overflow:visible"><ellipse cx="3" cy="4.5" rx="2.1" ry="2.1" fill="none" stroke="currentColor" stroke-width="1.1"/><rect x="2.45" y="0.2" width="1.1" height="8.6" fill="currentColor"/></svg>25</div>
<div class="t d b" style="left:552.27px;top:478.83px;width:60px;height:20px;line-height:20px">360</div>
<div class="t d b" style="left:603.86px;top:478.83px;width:60px;height:20px;line-height:20px">675</div>
<div class="t d b" style="left:655.45px;top:478.83px;width:60px;height:20px;line-height:20px">315</div>
<div class="t d" style="left:36.36px;top:502.83px;width:60px;height:20px;line-height:20px">800</div>
<div class="t d" style="left:87.95px;top:502.83px;width:60px;height:20px;line-height:20px">32</div>
<div class="t d" style="left:139.54px;top:502.83px;width:60px;height:20px;line-height:20px">190</div>
<div class="t d" style="left:191.13px;top:502.83px;width:60px;height:20px;line-height:20px">975</div>
<div class="t d" style="left:242.72px;top:502.83px;width:60px;height:20px;line-height:20px">920</div>
<div class="t d" style="left:294.31px;top:502.83px;width:60px;height:20px;line-height:20px">880</div>
<div class="t d" style="left:345.90px;top:502.83px;width:60px;height:20px;line-height:20px">5</div>
<div class="t d" style="left:397.49px;top:502.83px;width:60px;height:20px;line-height:20px">34</div>
<div class="t d" style="left:449.08px;top:502.83px;width:60px;height:20px;line-height:20px">24<span class="dash">–</span><svg width="6" height="9" viewBox="0 0 6 9" style="vertical-align:-2.3px;margin:0 1.2px 0 1.6px;overflow:visible"><ellipse cx="3" cy="4.5" rx="2.1" ry="2.1" fill="none" stroke="currentColor" stroke-width="1.1"/><rect x="2.45" y="0.2" width="1.1" height="8.6" fill="currentColor"/></svg>30</div>
<div class="t d" style="left:552.27px;top:502.83px;width:60px;height:20px;line-height:20px">360</div>
<div class="t d" style="left:603.86px;top:502.83px;width:60px;height:20px;line-height:20px">805</div>
<div class="t d" style="left:655.45px;top:502.83px;width:60px;height:20px;line-height:20px">385</div>
<div class="t d b" style="left:36.36px;top:525.83px;width:60px;height:20px;line-height:20px">900</div>
<div class="t d b" style="left:87.95px;top:525.83px;width:60px;height:20px;line-height:20px">36</div>
<div class="t d b" style="left:139.54px;top:525.83px;width:60px;height:20px;line-height:20px">203</div>
<div class="t d b" style="left:191.13px;top:525.83px;width:60px;height:20px;line-height:20px">1075</div>
<div class="t d b" style="left:242.72px;top:525.83px;width:60px;height:20px;line-height:20px">1020</div>
<div class="t d b" style="left:294.31px;top:525.83px;width:60px;height:20px;line-height:20px">980</div>
<div class="t d b" style="left:345.90px;top:525.83px;width:60px;height:20px;line-height:20px">5</div>
<div class="t d b" style="left:397.49px;top:525.83px;width:60px;height:20px;line-height:20px">36</div>
<div class="t d b" style="left:449.08px;top:525.83px;width:60px;height:20px;line-height:20px">24<span class="dash">–</span><svg width="6" height="9" viewBox="0 0 6 9" style="vertical-align:-2.3px;margin:0 1.2px 0 1.6px;overflow:visible"><ellipse cx="3" cy="4.5" rx="2.1" ry="2.1" fill="none" stroke="currentColor" stroke-width="1.1"/><rect x="2.45" y="0.2" width="1.1" height="8.6" fill="currentColor"/></svg>30</div>
<div class="t d b" style="left:552.27px;top:525.83px;width:60px;height:20px;line-height:20px">380</div>
<div class="t d b" style="left:603.86px;top:525.83px;width:60px;height:20px;line-height:20px">995</div>
<div class="t d b" style="left:655.45px;top:525.83px;width:60px;height:20px;line-height:20px">420</div>
<div class="t d" style="left:36.36px;top:549.83px;width:60px;height:20px;line-height:20px">1000</div>
<div class="t d" style="left:87.95px;top:549.83px;width:60px;height:20px;line-height:20px">40</div>
<div class="t d" style="left:139.54px;top:549.83px;width:60px;height:20px;line-height:20px">216</div>
<div class="t d" style="left:191.13px;top:549.83px;width:60px;height:20px;line-height:20px">1175</div>
<div class="t d" style="left:242.72px;top:549.83px;width:60px;height:20px;line-height:20px">1120</div>
<div class="t d" style="left:294.31px;top:549.83px;width:60px;height:20px;line-height:20px">1080</div>
<div class="t d" style="left:345.90px;top:549.83px;width:60px;height:20px;line-height:20px">5</div>
<div class="t d" style="left:397.49px;top:549.83px;width:60px;height:20px;line-height:20px">36</div>
<div class="t d" style="left:449.08px;top:549.83px;width:60px;height:20px;line-height:20px">28<span class="dash">–</span><svg width="6" height="9" viewBox="0 0 6 9" style="vertical-align:-2.3px;margin:0 1.2px 0 1.6px;overflow:visible"><ellipse cx="3" cy="4.5" rx="2.1" ry="2.1" fill="none" stroke="currentColor" stroke-width="1.1"/><rect x="2.45" y="0.2" width="1.1" height="8.6" fill="currentColor"/></svg>30</div>
<div class="t d" style="left:552.27px;top:549.83px;width:60px;height:20px;line-height:20px">400</div>
<div class="t d" style="left:603.86px;top:549.83px;width:60px;height:20px;line-height:20px">1170</div>
<div class="t d" style="left:655.45px;top:549.83px;width:60px;height:20px;line-height:20px">620</div>
<div class="t d b" style="left:36.36px;top:572.83px;width:60px;height:20px;line-height:20px">1200</div>
<div class="t d b" style="left:87.95px;top:572.83px;width:60px;height:20px;line-height:20px">48</div>
<div class="t d b" style="left:139.54px;top:572.83px;width:60px;height:20px;line-height:20px">254</div>
<div class="t d b" style="left:191.13px;top:572.83px;width:60px;height:20px;line-height:20px">1400</div>
<div class="t d b" style="left:242.72px;top:572.83px;width:60px;height:20px;line-height:20px">1340</div>
<div class="t d b" style="left:294.31px;top:572.83px;width:60px;height:20px;line-height:20px">1295</div>
<div class="t d b" style="left:345.90px;top:572.83px;width:60px;height:20px;line-height:20px">5</div>
<div class="t d b" style="left:397.49px;top:572.83px;width:60px;height:20px;line-height:20px">40</div>
<div class="t d b" style="left:449.08px;top:572.83px;width:60px;height:20px;line-height:20px">32<span class="dash">–</span><svg width="6" height="9" viewBox="0 0 6 9" style="vertical-align:-2.3px;margin:0 1.2px 0 1.6px;overflow:visible"><ellipse cx="3" cy="4.5" rx="2.1" ry="2.1" fill="none" stroke="currentColor" stroke-width="1.1"/><rect x="2.45" y="0.2" width="1.1" height="8.6" fill="currentColor"/></svg>34</div>
<div class="t d b" style="left:552.27px;top:572.83px;width:60px;height:20px;line-height:20px">400</div>
<div class="t d b" style="left:603.86px;top:572.83px;width:60px;height:20px;line-height:20px">1295</div>
<div class="t d b" style="left:655.45px;top:572.83px;width:60px;height:20px;line-height:20px">788</div>
</body></html>
